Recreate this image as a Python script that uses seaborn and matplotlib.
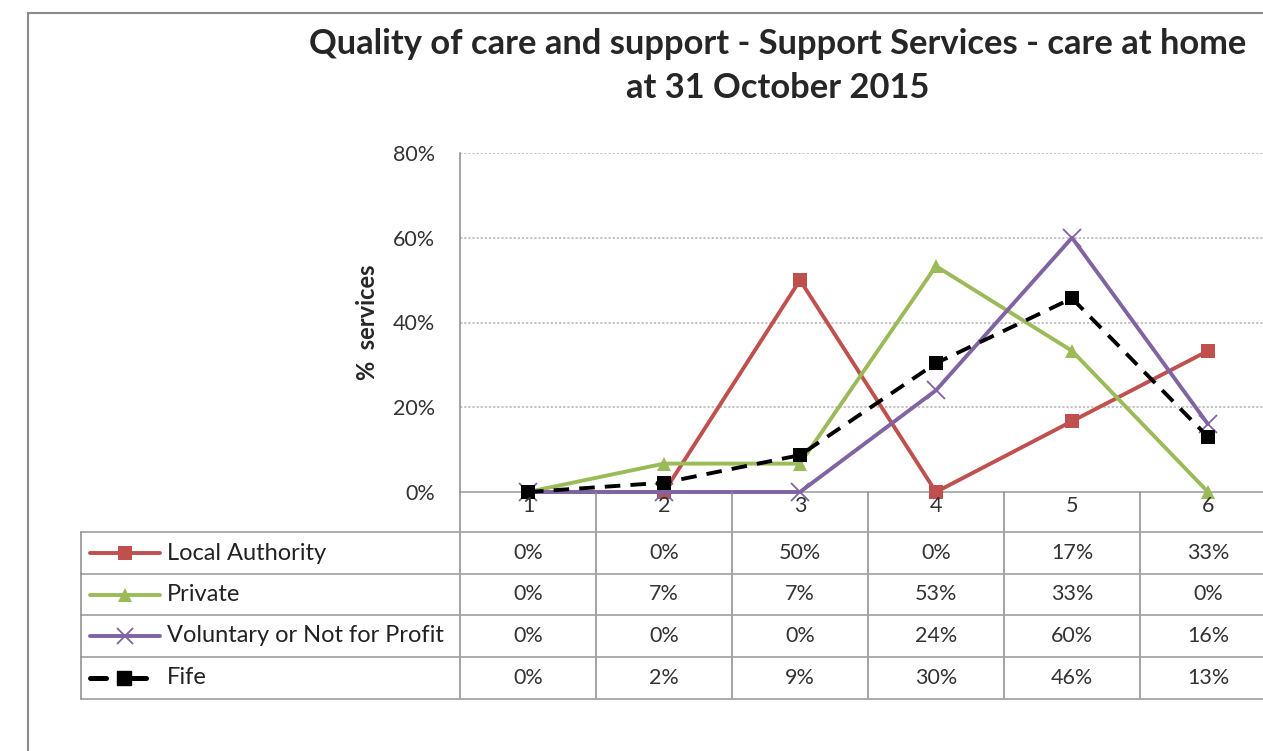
import matplotlib
matplotlib.use("Agg")
import matplotlib.pyplot as plt
import matplotlib.transforms as mtransforms
from matplotlib.lines import Line2D
import pandas as pd
import seaborn as sns

# data
categories = [1, 2, 3, 4, 5, 6]
local_authority = [0, 0, 50, 0, 16.7, 33.3]
private = [0, 6.7, 6.7, 53.3, 33.3, 0]
voluntary = [0, 0, 0, 24, 60, 16]
fife = [0, 2.2, 8.7, 30.4, 45.7, 13]
series_names = ["Local Authority", "Private", "Voluntary or Not for Profit", "Fife"]
series_values = [local_authority, private, voluntary, fife]
yticks = [0, 20, 40, 60, 80]

palette = {"Local Authority": "#C0504D", "Private": "#9BBB59",
           "Voluntary or Not for Profit": "#8064A2", "Fife": "#000000"}
markers = {"Local Authority": "s", "Private": "^",
           "Voluntary or Not for Profit": "x", "Fife": "s"}

sns.set_style("white")
plt.rcParams["font.family"] = ["Lato", "DejaVu Sans"]

W, H = 1263, 751
fig = plt.figure(figsize=(W / 100, H / 100), dpi=100)

def fx(px):
    return px / W

def fy(py):
    return 1 - py / H

# axes placed in pixels (right part runs past the figure edge, like the reference)
ax = fig.add_axes([fx(460), fy(492), fx(1276) - fx(460), fy(153) - fy(492)])

for name, vals in zip(series_names, series_values):
    d = pd.DataFrame({"category": categories, "value": vals})
    is_x = markers[name] == "x"
    sns.lineplot(data=d, x="category", y="value", ax=ax, color=palette[name],
                 marker=markers[name], markersize=13 if is_x else 9.5,
                 markeredgewidth=1.3 if is_x else 0,
                 markeredgecolor=palette[name], markerfacecolor=palette[name],
                 linewidth=2.8,
                 linestyle=(0, (4, 2.6)) if name == "Fife" else "-",
                 zorder=4 if name == "Fife" else 3, clip_on=False)

ax.set_xlim(0.5, 6.5)
ax.set_ylim(0, 80)
ax.set_yticks(yticks)
ax.set_yticklabels([f"{t}%" for t in yticks], fontsize=15.5, color="#333333")
ax.set_xticks([])
ax.set_xlabel("")
ax.set_ylabel("%  services", fontsize=17, fontweight="bold", labelpad=10)
ax.tick_params(axis="y", length=0, pad=18)
for y in yticks[1:]:
    ax.axhline(y, color="#b5b5b5", linestyle=(0, (1.5, 1.2)), linewidth=1.1, zorder=1)
for side in ["top", "right"]:
    ax.spines[side].set_visible(False)
ax.spines["left"].set_color("#8a8a8a")
ax.spines["bottom"].set_color("#9a9a9a")
ax.spines["left"].set_linewidth(1.1)
ax.spines["bottom"].set_linewidth(1.1)

# title
fig.text(fx(778), fy(44), "Quality of care and support - Support Services - care at home",
         ha="center", va="center", fontsize=24.8, fontweight="bold")
fig.text(fx(778), fy(88), "at 31 October 2015", ha="center", va="center",
         fontsize=24.8, fontweight="bold")

# outer frame of the chart area
fig.add_artist(Line2D([fx(28), fx(28)], [fy(13), 0], color="#8a8a8a", linewidth=1.5))
fig.add_artist(Line2D([fx(28), 1], [fy(13), fy(13)], color="#8a8a8a", linewidth=1.5))

# data table under the axis
mixed = mtransforms.blended_transform_factory(ax.transData, fig.transFigure)
row_edges = [492, 532, 574, 615, 657, 699]
grid_col = "#a6a6a6"
for i in range(len(categories) + 1):
    xb = categories[0] - 0.5 + i
    fig.add_artist(Line2D([xb, xb], [fy(492), fy(699)], transform=mixed,
                          color="#8a8a8a", linewidth=1.1))
for ry in row_edges[1:]:
    fig.add_artist(Line2D([fx(81), 1], [fy(ry), fy(ry)], color=grid_col, linewidth=1.3))
fig.add_artist(Line2D([fx(81), fx(81)], [fy(532), fy(699)], color="#8a8a8a", linewidth=1.1))

for c in categories:
    fig.text(c, fy(506), str(c), transform=mixed, ha="center", va="center",
             fontsize=15.5, color="#333333")

for r, (name, vals) in enumerate(zip(series_names, series_values)):
    yc = fy((row_edges[r + 1] + row_edges[r + 2]) / 2)
    for c, v in zip(categories, vals):
        fig.text(c, yc, f"{v:.0f}%", transform=mixed, ha="center", va="center",
                 fontsize=15.5, color="#333333")
    # legend key
    col = palette[name]
    if name == "Fife":
        fig.add_artist(Line2D([fx(90), fx(106)], [yc, yc], color=col, linewidth=3.6))
        fig.add_artist(Line2D([fx(132), fx(146)], [yc, yc], color=col, linewidth=3.6))
        fig.add_artist(Line2D([fx(124)], [yc], color=col, marker="s", markersize=10,
                              linestyle="none"))
    else:
        fig.add_artist(Line2D([fx(90), fx(160)], [yc, yc], color=col, linewidth=2.8))
        ms = 12 if markers[name] == "x" else 9.5
        fig.add_artist(Line2D([fx(125)], [yc], color=col, marker=markers[name],
                              markersize=ms, markeredgewidth=1.3 if ms == 12 else 0,
                              linestyle="none"))
    fig.text(fx(167), yc, name, ha="left", va="center", fontsize=17, color="#222222")

fig.savefig("out.png", dpi=100)
